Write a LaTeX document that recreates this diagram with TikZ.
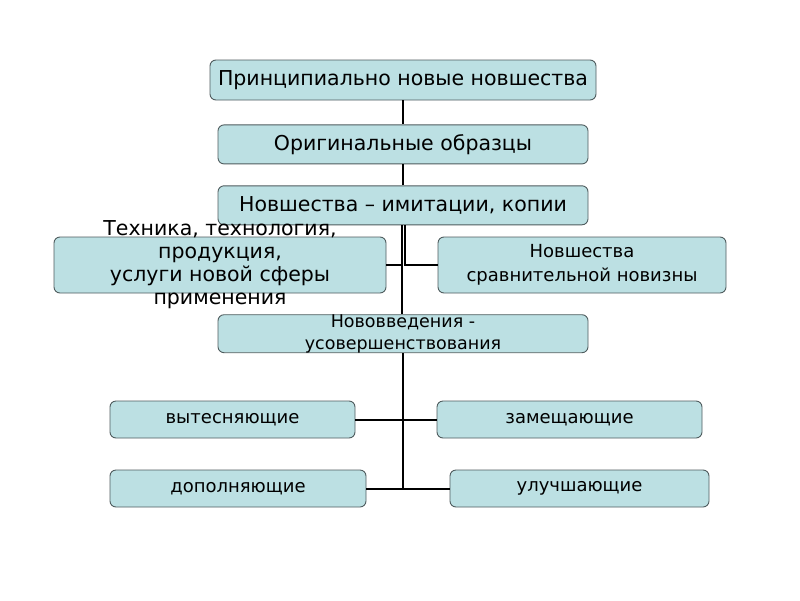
\documentclass[tikz,border=0pt]{standalone}
\usepackage{fontspec}
\setmainfont{DejaVu Sans}
\usetikzlibrary{positioning}
\definecolor{boxfill}{HTML}{BCE0E3}
\definecolor{boxline}{HTML}{4F5C5E}

\begin{document}
\begin{tikzpicture}[x=1pt,y=-1pt, every node/.style={font=\fontsize{20.5}{23}\selectfont,align=center},
  box/.style={draw=boxline,rounded corners=6pt,fill=boxfill,inner sep=0pt,line width=0.9pt},
  wide/.style={box,minimum width=370pt,minimum height=39pt},
  small/.style={font=\fontsize{18}{24}\selectfont},
  link/.style={line width=2pt}]
\useasboundingbox (0,0) rectangle (800,600);
\node[box,minimum width=386pt,minimum height=40pt] (pnov) at (403,80) {Принципиально новые новшества};
\node[wide,below=24pt of pnov] (orig) {Оригинальные образцы};
\node[wide,below=21pt of orig] (imit) {Новшества – имитации, копии};
\node[box,minimum width=332pt,minimum height=56pt,
  label={[align=center]center:{Техника, технология,\\продукция,\\услуги новой сферы\\применения}}] (tech) at (220,265) {};
\node[box,small,minimum width=288pt,minimum height=56pt] (srav) at (582,265) {Новшества\\сравнительной новизны};
\node[wide,minimum height=38pt,below=89pt of imit,
  label={[align=center,font=\fontsize{17.5}{22}\selectfont]center:{Нововведения -\\усовершенствования}}] (nov) {};
\node[box,small,minimum width=245pt,minimum height=37pt] (vyt) at (232.5,419.5) {вытесняющие};
\node[box,small,minimum width=265pt,minimum height=37pt] (zam) at (569.5,419.5) {замещающие};
\node[box,small,minimum width=256pt,minimum height=37pt] (dop) at (238,488.5) {дополняющие};
\node[box,small,minimum width=259pt,minimum height=37pt] (ulu) at (579.5,488.5) {улучшающие};
\draw[link] (pnov) -- (orig); \draw[link] (orig) -- (imit);
\coordinate (sl) at ([xshift=-1.5pt]imit.south);
\draw[link] (sl) -- (sl |- nov.north);
\draw[link] ([xshift=1.5pt]imit.south) |- (srav.west);
\draw[link] (tech.east) -- (tech.east -| sl);
\draw[link] (nov.south) -- (nov.south |- dop.east);
\draw[link] (vyt.east) -- (zam.west); \draw[link] (dop.east) -- (ulu.west);
\end{tikzpicture}
\end{document}
